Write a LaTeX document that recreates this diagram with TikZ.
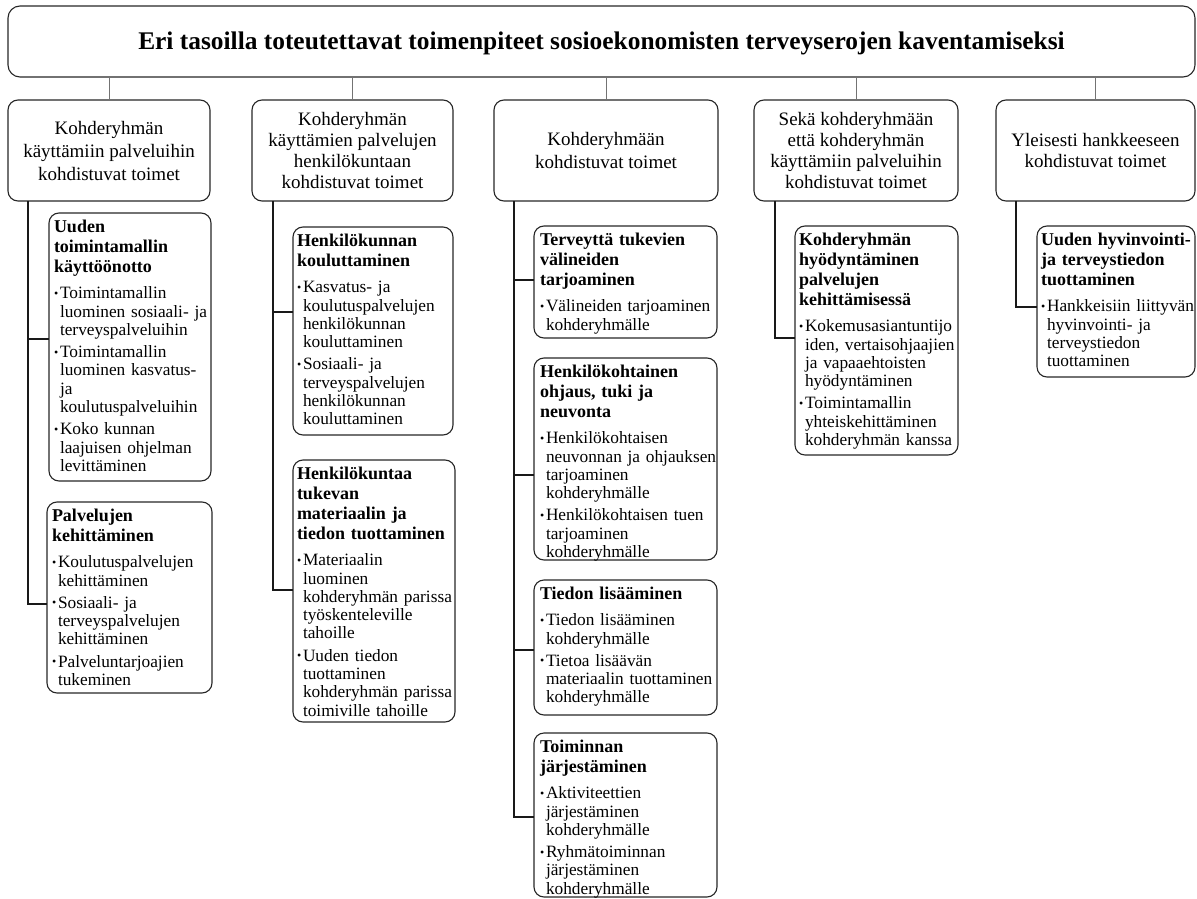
\documentclass[tikz,border=0pt]{standalone}
\usepackage{fontspec}
\setmainfont{Liberation Serif}
\newcommand{\stset}{\parindent=0pt\parskip=0pt\hyphenpenalty=10000\relax}
\newcommand{\tlx}[1]{\stset{\fontsize{18}{20}\selectfont\bfseries #1\par}\vspace{4pt}}
\newcommand{\bix}[1]{\vspace{4pt}\hangindent=6pt\hangafter=1\noindent\makebox[6pt][l]{\raisebox{1.5pt}{\fontsize{12}{12}\selectfont •}}#1\par}
\tikzset{
  every node/.style={inner sep=0pt, outer sep=0pt},
  tbox/.style={draw=black!85, line width=1.1pt, rounded corners=12pt, rectangle, anchor=north west},
  cbox/.style={draw=black!85, line width=1.1pt, rounded corners=10pt, rectangle, anchor=north west, align=center, font=\fontsize{19}{21}\selectfont},
  sbox/.style={draw=black!85, line width=1.1pt, rounded corners=10pt, rectangle, anchor=north west},
  stxt/.style={anchor=north west, text width=#1pt, align=left, font=\fontsize{17.3}{18.3}\selectfont},
  tconn/.style={draw=black!55, line width=0.9pt},
  tree/.style={draw=black!90, line width=1.3pt},
}
\begin{document}
\begin{tikzpicture}[x=1pt,y=-1pt]
\useasboundingbox (0,0) rectangle (1197,899);
% title
\node[tbox, minimum width=1187, minimum height=71] (T) at (8,6) {};
\node[font=\fontsize{25.4}{30}\selectfont\bfseries] (Tt) at ([yshift=-2pt]T.center) {Eri tasoilla toteutettavat toimenpiteet sosioekonomisten terveyserojen kaventamiseksi};
% columns
\node[cbox, minimum width=202, minimum height=101, font=\fontsize{19}{23}\selectfont] (C1) at (8,100) {Kohderyhmän\\käyttämiin palveluihin\\kohdistuvat toimet};
\node[cbox, minimum width=201, minimum height=101] (C2) at (252,100) {Kohderyhmän\\käyttämien palvelujen\\henkilökuntaan\\kohdistuvat toimet};
\node[cbox, minimum width=224, minimum height=101, font=\fontsize{19}{23}\selectfont] (C3) at (494,100) {Kohderyhmään\\kohdistuvat toimet};
\node[cbox, minimum width=204, minimum height=101] (C4) at (754,100) {Sekä kohderyhmään\\että kohderyhmän\\käyttämiin palveluihin\\kohdistuvat toimet};
\node[cbox, minimum width=199, minimum height=101] (C5) at (996,100) {Yleisesti hankkeeseen\\kohdistuvat toimet};
\foreach \c in {C1,C2,C3,C4,C5} { \draw[tconn] (T.south -| \c.north) -- (\c.north); }
% sub boxes
\node[sbox, minimum width=162, minimum height=268] (S11) at (49,213) {};
\node[sbox, minimum width=165, minimum height=191] (S12) at (47,502) {};
\node[sbox, minimum width=160, minimum height=208] (S21) at (293,227) {};
\node[sbox, minimum width=162, minimum height=262] (S22) at (293,460) {};
\node[sbox, minimum width=183, minimum height=112] (S31) at (534,226) {};
\node[sbox, minimum width=183, minimum height=202] (S32) at (534,358) {};
\node[sbox, minimum width=183, minimum height=135] (S33) at (534,580) {};
\node[sbox, minimum width=183, minimum height=164] (S34) at (534,733) {};
\node[sbox, minimum width=163, minimum height=229] (S41) at (795,226) {};
\node[sbox, minimum width=158, minimum height=151] (S51) at (1037,226) {};
% branch points
\coordinate (b11) at (28,339);  \coordinate (b12) at (28,604);
\coordinate (b21) at (273,312); \coordinate (b22) at (273,590);
\coordinate (b31) at (514,280); \coordinate (b32) at (514,475);
\coordinate (b33) at (514,650); \coordinate (b34) at (514,817);
\coordinate (b41) at (775,338);
\coordinate (b51) at (1016,307);
\draw[tree] (C1.south -| b12) |- (b12 -| S12.west);
\draw[tree] (b11) -- (b11 -| S11.west);
\draw[tree] (C2.south -| b22) |- (b22 -| S22.west);
\draw[tree] (b21) -- (b21 -| S21.west);
\draw[tree] (C3.south -| b34) |- (b34 -| S34.west);
\draw[tree] (b31) -- (b31 -| S31.west);
\draw[tree] (b32) -- (b32 -| S32.west);
\draw[tree] (b33) -- (b33 -| S33.west);
\draw[tree] (C4.south -| b41) |- (b41 -| S41.west);
\draw[tree] (C5.south -| b51) |- (b51 -| S51.west);
% texts
\node[stxt=160] (S11t) at ([xshift=5pt,yshift=-7pt]S11.north west) {%
\tlx{Uuden\newline toimintamallin\newline käyttöönotto}%
\bix{Toimintamallin\newline luominen sosiaali- ja\newline terveyspalveluihin}%
\bix{Toimintamallin\newline luominen kasvatus-\newline ja\newline koulutuspalveluihin}%
\bix{Koko kunnan\newline laajuisen ohjelman\newline levittäminen}};
\node[stxt=163] (S12t) at ([xshift=5pt,yshift=-7pt]S12.north west) {%
\tlx{Palvelujen\newline kehittäminen}%
\bix{Koulutuspalvelujen\newline kehittäminen}%
\bix{Sosiaali- ja\newline terveyspalvelujen\newline kehittäminen}%
\bix{Palveluntarjoajien\newline tukeminen}};
\node[stxt=160] (S21t) at ([xshift=4pt,yshift=-7pt]S21.north west) {%
\tlx{Henkilökunnan\newline kouluttaminen}%
\bix{Kasvatus- ja\newline koulutuspalvelujen\newline henkilökunnan\newline kouluttaminen}%
\bix{Sosiaali- ja\newline terveyspalvelujen\newline henkilökunnan\newline kouluttaminen}};
\node[stxt=160] (S22t) at ([xshift=4pt,yshift=-7pt]S22.north west) {%
\tlx{Henkilökuntaa\newline tukevan\newline materiaalin ja\newline tiedon tuottaminen}%
\bix{Materiaalin\newline luominen\newline kohderyhmän parissa\newline työskenteleville\newline tahoille}%
\bix{Uuden tiedon\newline tuottaminen\newline kohderyhmän parissa\newline toimiville tahoille}};
\node[stxt=180] (S31t) at ([xshift=6pt,yshift=-7pt]S31.north west) {%
\tlx{Terveyttä tukevien\newline välineiden\newline tarjoaminen}%
\bix{Välineiden tarjoaminen\newline kohderyhmälle}};
\node[stxt=180] (S32t) at ([xshift=6pt,yshift=-7pt]S32.north west) {%
\tlx{Henkilökohtainen\newline ohjaus, tuki ja\newline neuvonta}%
\bix{Henkilökohtaisen\newline neuvonnan ja ohjauksen\newline tarjoaminen\newline kohderyhmälle}%
\bix{Henkilökohtaisen tuen\newline tarjoaminen\newline kohderyhmälle}};
\node[stxt=180] (S33t) at ([xshift=6pt,yshift=-7pt]S33.north west) {%
\tlx{Tiedon lisääminen}%
\bix{Tiedon lisääminen\newline kohderyhmälle}%
\bix{Tietoa lisäävän\newline materiaalin tuottaminen\newline kohderyhmälle}};
\node[stxt=180] (S34t) at ([xshift=6pt,yshift=-7pt]S34.north west) {%
\tlx{Toiminnan\newline järjestäminen}%
\bix{Aktiviteettien\newline järjestäminen\newline kohderyhmälle}%
\bix{Ryhmätoiminnan\newline järjestäminen\newline kohderyhmälle}};
\node[stxt=162] (S41t) at ([xshift=4pt,yshift=-7pt]S41.north west) {%
\tlx{Kohderyhmän\newline hyödyntäminen\newline palvelujen\newline kehittämisessä}%
\bix{Kokemusasiantuntijo\newline iden, vertaisohjaajien\newline ja vapaaehtoisten\newline hyödyntäminen}%
\bix{Toimintamallin\newline yhteiskehittäminen\newline kohderyhmän kanssa}};
\node[stxt=156] (S51t) at ([xshift=4pt,yshift=-7pt]S51.north west) {%
\tlx{Uuden hyvinvointi-\newline ja terveystiedon\newline tuottaminen}%
\bix{Hankkeisiin liittyvän\newline hyvinvointi- ja\newline terveystiedon\newline tuottaminen}};
\end{tikzpicture}
\end{document}
